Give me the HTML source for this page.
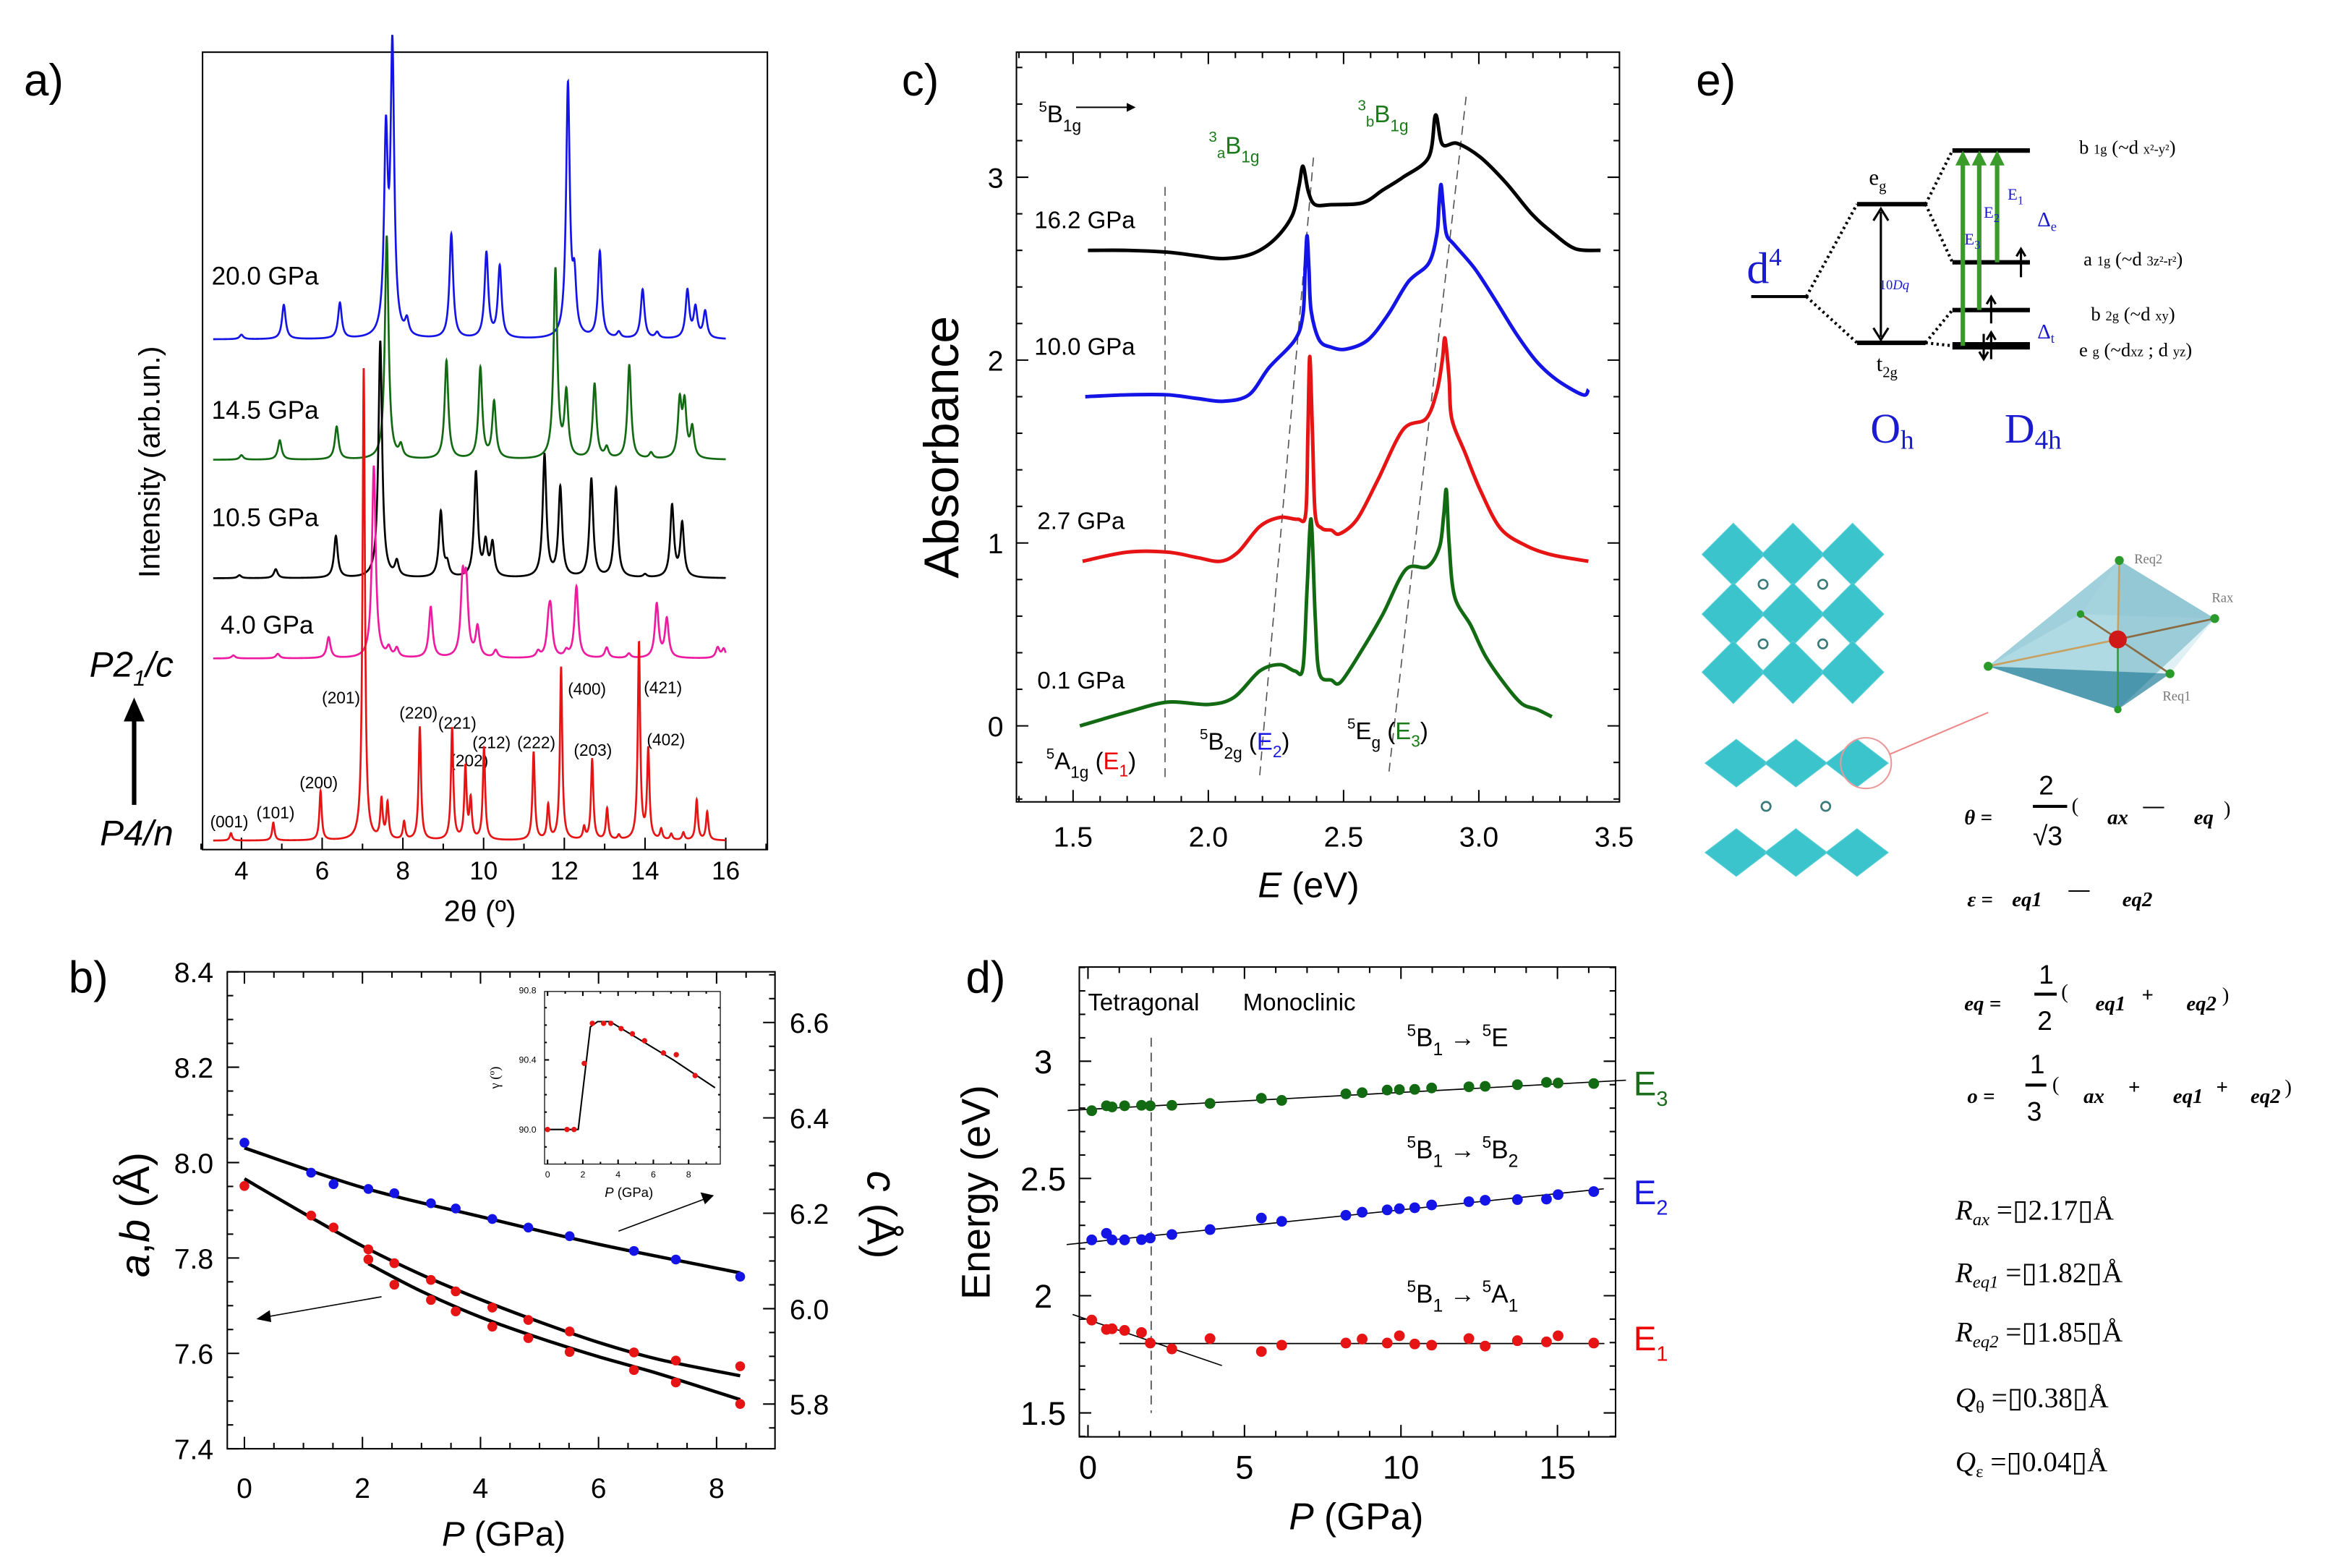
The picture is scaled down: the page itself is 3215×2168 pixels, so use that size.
<!DOCTYPE html>
<html><head><meta charset="utf-8"><style>
html,body{margin:0;padding:0;background:#fff}
svg{display:block}
text{font-family:"Liberation Sans",sans-serif}
.sf,.sf text,text.sf{font-family:"Liberation Serif",serif}
</style></head><body>
<svg id="fig" xmlns="http://www.w3.org/2000/svg" width="3215" height="2168" viewBox="0 0 1560 1052" preserveAspectRatio="none">
<rect width="1560" height="1052" fill="#fff"/>

<!-- Panel a -->
<g id="pa">
<text x="16" y="64" font-size="30">a)</text>
<rect x="135.9" y="35" width="379" height="535" fill="none" stroke="#000" stroke-width="1"/>
<text transform="translate(107,310) rotate(-90)" text-anchor="middle" font-size="20">Intensity (arb.un.)</text>
<text x="322" y="618" text-anchor="middle" font-size="20">2θ (º)</text>
<text x="60" y="454" font-size="24" font-style="italic">P2<tspan font-size="15" dy="6">1</tspan><tspan dy="-6">/c</tspan></text>
<line x1="90" y1="540" x2="90" y2="482" stroke="#000" stroke-width="3"/>
<polygon points="83,484 97,484 90,468" fill="#000"/>
<text x="67" y="567" font-size="24" font-style="italic">P4/n</text>
<text x="142" y="191" font-size="17">20.0 GPa</text>
<text x="142" y="281" font-size="17">14.5 GPa</text>
<text x="142" y="353" font-size="17">10.5 GPa</text>
<text x="148" y="425" font-size="17">4.0 GPa</text>
<g font-size="11">
<text x="141" y="555">(001)</text><text x="172" y="549">(101)</text><text x="201" y="529">(200)</text>
<text x="216" y="472">(201)</text><text x="268" y="482">(220)</text><text x="294" y="489">(221)</text>
<text x="302" y="514">(202)</text><text x="317" y="502">(212)</text><text x="347" y="502">(222)</text>
<text x="381" y="466">(400)</text><text x="385" y="507">(203)</text><text x="432" y="465">(421)</text>
<text x="434" y="500">(402)</text>
</g>
<g id="pa-ticks"></g><g id="pa-traces"></g>
</g>

<!-- Panel c -->
<g id="pc">
<text x="605" y="64" font-size="30">c)</text>
<rect x="682" y="35" width="404.6" height="503" fill="none" stroke="#000" stroke-width="1"/>
<text transform="translate(643,300) rotate(-90)" text-anchor="middle" font-size="33">Absorbance</text>
<text x="878" y="602" text-anchor="middle" font-size="24"><tspan font-style="italic">E</tspan> (eV)</text>
<g id="pc-ticks"></g><g id="pc-guides"></g><g id="pc-traces"></g>
<text x="697" y="82" font-size="16"><tspan font-size="10" dy="-7">5</tspan><tspan dy="7">B</tspan><tspan font-size="11" dy="6">1g</tspan></text>
<line x1="722" y1="72" x2="756" y2="72" stroke="#000" stroke-width="1"/>
<polygon points="756,69 762,72 756,75" fill="#000"/>
<text x="811" y="103" font-size="16" fill="#1a7a1a"><tspan font-size="10" dy="-8">3</tspan><tspan font-size="10" dy="11">a</tspan><tspan dy="-3">B</tspan><tspan font-size="11" dy="6">1g</tspan></text>
<text x="911" y="82" font-size="16" fill="#1a7a1a"><tspan font-size="10" dy="-8">3</tspan><tspan font-size="10" dy="11">b</tspan><tspan dy="-3">B</tspan><tspan font-size="11" dy="6">1g</tspan></text>
<text x="694" y="153" font-size="16">16.2 GPa</text>
<text x="694" y="238" font-size="16">10.0 GPa</text>
<text x="696" y="355" font-size="16">2.7 GPa</text>
<text x="696" y="462" font-size="16">0.1 GPa</text>
<text x="702" y="516" font-size="16"><tspan font-size="10" dy="-7">5</tspan><tspan dy="7">A</tspan><tspan font-size="11" dy="6">1g</tspan><tspan dy="-6"> (</tspan><tspan fill="#e00">E</tspan><tspan fill="#e00" font-size="11" dy="5">1</tspan><tspan dy="-5">)</tspan></text>
<text x="805" y="503" font-size="16"><tspan font-size="10" dy="-7">5</tspan><tspan dy="7">B</tspan><tspan font-size="11" dy="6">2g</tspan><tspan dy="-6"> (</tspan><tspan fill="#1a1ae0">E</tspan><tspan fill="#1a1ae0" font-size="11" dy="5">2</tspan><tspan dy="-5">)</tspan></text>
<text x="904" y="496" font-size="16"><tspan font-size="10" dy="-7">5</tspan><tspan dy="7">E</tspan><tspan font-size="11" dy="6">g</tspan><tspan dy="-6"> (</tspan><tspan fill="#1a7a1a">E</tspan><tspan fill="#1a7a1a" font-size="11" dy="5">3</tspan><tspan dy="-5">)</tspan></text>
</g>

<!-- Panel b -->
<g id="pb">
<text x="46" y="666" font-size="30">b)</text>
<rect x="152.5" y="652" width="367.5" height="320" fill="none" stroke="#000" stroke-width="1"/>
<text transform="translate(100,815) rotate(-90)" text-anchor="middle" font-size="28"><tspan font-style="italic">a</tspan>,<tspan font-style="italic">b</tspan> (Å)</text>
<text transform="translate(582,815) rotate(90)" text-anchor="middle" font-size="28"><tspan font-style="italic">c</tspan> (Å)</text>
<text x="338" y="1037" text-anchor="middle" font-size="23"><tspan font-style="italic">P</tspan> (GPa)</text>
<line x1="256" y1="870" x2="176" y2="884" stroke="#000" stroke-width="0.8"/>
<polygon points="172,885 181,879 182,887" fill="#000"/>
<line x1="415" y1="826" x2="474" y2="804" stroke="#000" stroke-width="0.8"/>
<polygon points="479,802 470,800 473,808" fill="#000"/>
<g id="pb-ticks"></g><g id="pb-marks"></g>
<rect x="365.4" y="665.2" width="117.9" height="115.8" fill="#fff" stroke="#000" stroke-width="0.6"/>
<text transform="translate(335,723) rotate(-90)" text-anchor="middle" font-size="9" class="sf">γ (º)</text>
<text x="422" y="803" text-anchor="middle" font-size="9"><tspan font-style="italic">P</tspan> (GPa)</text>
<g id="pi-ticks"></g><g id="pi-marks"></g>
</g>

<!-- Panel d -->
<g id="pd">
<text x="648" y="666" font-size="30">d)</text>
<rect x="724.2" y="648.8" width="359.8" height="315.2" fill="none" stroke="#000" stroke-width="1"/>
<text transform="translate(664,800) rotate(-90)" text-anchor="middle" font-size="27">Energy (eV)</text>
<text x="910" y="1026" text-anchor="middle" font-size="25"><tspan font-style="italic">P</tspan> (GPa)</text>
<text x="730" y="678" font-size="16">Tetragonal</text>
<text x="834" y="678" font-size="16">Monoclinic</text>
<text x="944" y="702" font-size="17"><tspan font-size="11" dy="-7">5</tspan><tspan dy="7">B</tspan><tspan font-size="12" dy="6">1</tspan><tspan dy="-6"> → </tspan><tspan font-size="11" dy="-7">5</tspan><tspan dy="7">E</tspan></text>
<text x="944" y="777" font-size="17"><tspan font-size="11" dy="-7">5</tspan><tspan dy="7">B</tspan><tspan font-size="12" dy="6">1</tspan><tspan dy="-6"> → </tspan><tspan font-size="11" dy="-7">5</tspan><tspan dy="7">B</tspan><tspan font-size="12" dy="6">2</tspan></text>
<text x="944" y="874" font-size="17"><tspan font-size="11" dy="-7">5</tspan><tspan dy="7">B</tspan><tspan font-size="12" dy="6">1</tspan><tspan dy="-6"> → </tspan><tspan font-size="11" dy="-7">5</tspan><tspan dy="7">A</tspan><tspan font-size="12" dy="6">1</tspan></text>
<text x="1096" y="735" font-size="23" fill="#1a6e1a">E<tspan font-size="14" dy="7">3</tspan></text>
<text x="1096" y="808" font-size="23" fill="#1a1ae0">E<tspan font-size="14" dy="7">2</tspan></text>
<text x="1096" y="906" font-size="23" fill="#e00">E<tspan font-size="14" dy="7">1</tspan></text>
<g id="pd-ticks"></g><g id="pd-marks"></g>
</g>

<!-- Panel e -->
<g id="pe">
<text x="1138" y="64" font-size="30">e)</text>
<text x="1172" y="190" font-size="30" fill="#1a1ad0" class="sf">d<tspan font-size="17" dy="-12">4</tspan></text>
<g stroke="#000" fill="none">
<line x1="1175" y1="199" x2="1212" y2="199" stroke-width="2"/>
<line x1="1246" y1="137" x2="1292" y2="137" stroke-width="3"/>
<line x1="1246" y1="230" x2="1292" y2="230" stroke-width="3"/>
<line x1="1310" y1="101" x2="1362" y2="101" stroke-width="3"/>
<line x1="1310" y1="176" x2="1362" y2="176" stroke-width="3"/>
<line x1="1310" y1="208" x2="1362" y2="208" stroke-width="3"/>
<line x1="1310" y1="232" x2="1362" y2="232" stroke-width="5"/>
<g stroke-dasharray="1.5,2.2" stroke-width="2">
<line x1="1212" y1="199" x2="1246" y2="137"/><line x1="1212" y1="199" x2="1246" y2="230"/>
<line x1="1292" y1="137" x2="1310" y2="101"/><line x1="1292" y1="137" x2="1310" y2="176"/>
<line x1="1292" y1="230" x2="1310" y2="208"/><line x1="1292" y1="230" x2="1310" y2="232"/>
</g>
<line x1="1262" y1="142" x2="1262" y2="226" stroke-width="1.5"/>
<polyline points="1257,148 1262,140 1267,148" stroke-width="1.5"/>
<polyline points="1257,220 1262,228 1267,220" stroke-width="1.5"/>
<line x1="1356" y1="186" x2="1356" y2="168" stroke-width="1.5"/><polyline points="1353,172 1356,167 1359,172" stroke-width="1.5"/>
<line x1="1336" y1="217" x2="1336" y2="200" stroke-width="1.5"/><polyline points="1333,204 1336,199 1339,204" stroke-width="1.5"/>
<line x1="1336" y1="241" x2="1336" y2="224" stroke-width="1.5"/><polyline points="1333,228 1336,223 1339,228" stroke-width="1.5"/>
<line x1="1331" y1="224" x2="1331" y2="240" stroke-width="1.5"/><polyline points="1328,236 1331,241 1334,236" stroke-width="1.5"/>
</g>
<g stroke="#3a9a2a" stroke-width="3" fill="#3a9a2a">
<line x1="1317" y1="232" x2="1317" y2="110"/><polygon points="1312,111 1322,111 1317,101" stroke="none"/>
<line x1="1328" y1="208" x2="1328" y2="110"/><polygon points="1323,111 1333,111 1328,101" stroke="none"/>
<line x1="1340" y1="176" x2="1340" y2="110"/><polygon points="1335,111 1345,111 1340,101" stroke="none"/>
</g>
<g class="sf" fill="#1a1ad0">
<text x="1318" y="164" font-size="11">E<tspan font-size="8" dy="3">3</tspan></text>
<text x="1331" y="146" font-size="11">E<tspan font-size="8" dy="3">2</tspan></text>
<text x="1347" y="134" font-size="11">E<tspan font-size="8" dy="3">1</tspan></text>
<text x="1367" y="152" font-size="14">Δ<tspan font-size="9" dy="3">e</tspan></text>
<text x="1367" y="227" font-size="14">Δ<tspan font-size="9" dy="3">t</tspan></text>
<text x="1261" y="194" font-size="9">10<tspan font-style="italic">Dq</tspan></text>
<text x="1255" y="297" font-size="28">O<tspan font-size="18" dy="4">h</tspan></text>
<text x="1345" y="297" font-size="28">D<tspan font-size="18" dy="4">4h</tspan></text>
</g>
<g class="sf" font-size="13">
<text x="1254" y="124" font-size="15">e<tspan font-size="10" dy="4">g</tspan></text>
<text x="1259" y="249" font-size="15">t<tspan font-size="10" dy="4">2g</tspan></text>
<text x="1395" y="103">b <tspan font-size="9">1g</tspan> (~d <tspan font-size="9">x²-y²</tspan>)</text>
<text x="1398" y="178">a <tspan font-size="9">1g</tspan> (~d <tspan font-size="9">3z²-r²</tspan>)</text>
<text x="1403" y="215">b <tspan font-size="9">2g</tspan> (~d <tspan font-size="9">xy</tspan>)</text>
<text x="1395" y="239">e <tspan font-size="9">g</tspan> (~d<tspan font-size="9">xz</tspan> ; d <tspan font-size="9">yz</tspan>)</text>
</g>
<g id="crystal"></g>
<g>
<polygon points="1422,376 1486,415 1421,476" fill="#4a9cb0" opacity="0.75"/>
<polygon points="1422,376 1334,447 1421,476" fill="#7fc0d0" opacity="0.75"/>
<polygon points="1334,447 1456,452 1421,476" fill="#3f8ea6" opacity="0.8"/>
<polygon points="1422,376 1396,412 1486,415" fill="#a8d6e0" opacity="0.6"/>
<polygon points="1334,447 1396,412 1486,415 1456,452" fill="#bfe4ec" opacity="0.5"/>
<g stroke="#c8a060" stroke-width="1.3"><line x1="1334" y1="447" x2="1421" y2="429"/><line x1="1422" y1="376" x2="1421" y2="429"/></g>
<g stroke="#8a6a40" stroke-width="1.3"><line x1="1396" y1="412" x2="1456" y2="452"/><line x1="1421" y1="429" x2="1486" y2="415"/></g>
<line x1="1421" y1="429" x2="1421" y2="476" stroke="#3a9a3a" stroke-width="1.3"/>
<circle cx="1421" cy="429" r="6" fill="#d01818"/>
<g fill="#2a9a2a"><circle cx="1422" cy="376" r="3"/><circle cx="1486" cy="415" r="3"/><circle cx="1334" cy="447" r="3"/><circle cx="1456" cy="452" r="3"/><circle cx="1396" cy="412" r="2.5"/><circle cx="1421" cy="476" r="2.5"/></g>
<g fill="#777" font-size="9" class="sf"><text x="1432" y="378">Req2</text><text x="1484" y="404">Rax</text><text x="1451" y="470">Req1</text></g>
</g>
<circle cx="1252" cy="512" r="17" fill="none" stroke="#e89898" stroke-width="1"/>
<line x1="1268" y1="506" x2="1334" y2="478" stroke="#e88" stroke-width="1"/>
<g font-weight="bold" font-style="italic" font-size="14" class="sf">
<text x="1318" y="553">θ =</text><text x="1368" y="533" font-style="normal" font-weight="normal" style="font-family:'Liberation Sans',sans-serif" font-size="18">2</text>
<line x1="1364" y1="541" x2="1387" y2="541" stroke="#000" stroke-width="2"/>
<text x="1364" y="567" font-style="normal" font-weight="normal" style="font-family:'Liberation Sans',sans-serif" font-size="18">√3</text>
<text x="1390" y="545" font-style="normal" font-weight="normal">(</text><text x="1414" y="553">ax</text><text x="1438" y="545" font-style="normal">—</text><text x="1472" y="553">eq</text><text x="1492" y="547" font-style="normal" font-weight="normal">)</text>
<text x="1320" y="608">ε =</text><text x="1350" y="608">eq1</text><text x="1388" y="601" font-style="normal">—</text><text x="1424" y="608">eq2</text>
<text x="1318" y="678">eq =</text><text x="1368" y="660" font-style="normal" font-weight="normal" style="font-family:'Liberation Sans',sans-serif" font-size="18">1</text>
<line x1="1365" y1="667" x2="1380" y2="667" stroke="#000" stroke-width="2"/>
<text x="1367" y="691" font-style="normal" font-weight="normal" style="font-family:'Liberation Sans',sans-serif" font-size="18">2</text>
<text x="1383" y="670" font-style="normal" font-weight="normal">(</text><text x="1406" y="678">eq1</text><text x="1437" y="672" font-style="normal">+</text><text x="1467" y="678">eq2</text><text x="1491" y="672" font-style="normal" font-weight="normal">)</text>
<text x="1320" y="740">o =</text><text x="1362" y="720" font-style="normal" font-weight="normal" style="font-family:'Liberation Sans',sans-serif" font-size="18">1</text>
<line x1="1359" y1="728" x2="1373" y2="728" stroke="#000" stroke-width="2"/>
<text x="1360" y="752" font-style="normal" font-weight="normal" style="font-family:'Liberation Sans',sans-serif" font-size="18">3</text>
<text x="1377" y="732" font-style="normal" font-weight="normal">(</text><text x="1398" y="740">ax</text><text x="1428" y="734" font-style="normal">+</text><text x="1458" y="740">eq1</text><text x="1487" y="734" font-style="normal">+</text><text x="1510" y="740">eq2</text><text x="1533" y="734" font-style="normal" font-weight="normal">)</text>
</g>
<g class="sf" font-size="19">
<text x="1312" y="818"><tspan font-style="italic">R</tspan><tspan font-style="italic" font-size="12" dy="4">ax</tspan><tspan dy="-4"> =▯2.17▯Å</tspan></text>
<text x="1312" y="860"><tspan font-style="italic">R</tspan><tspan font-style="italic" font-size="12" dy="4">eq1</tspan><tspan dy="-4"> =▯1.82▯Å</tspan></text>
<text x="1312" y="900"><tspan font-style="italic">R</tspan><tspan font-style="italic" font-size="12" dy="4">eq2</tspan><tspan dy="-4"> =▯1.85▯Å</tspan></text>
<text x="1312" y="944"><tspan font-style="italic">Q</tspan><tspan font-size="12" dy="4">θ</tspan><tspan dy="-4"> =▯0.38▯Å</tspan></text>
<text x="1312" y="987"><tspan font-style="italic">Q</tspan><tspan font-size="12" dy="4">ε</tspan><tspan dy="-4"> =▯0.04▯Å</tspan></text>
</g>
</g>

</svg>
<script>
// ---------- Panel a: XRD peak data (2θ positions, heights in px above baseline) ----------
const xrdBluePos=[4.0,5.05,6.44,7.58,7.74,8.1,9.2,10.07,10.4,12.09,12.25,12.88,13.35,13.94,14.3,15.05,15.25,15.49];
const xrdBlueH=[3,23,24,130,190,10,70,57,48,169,35,58,4,33,4,32,20,18];
const xrdGreenPos=[4.0,4.95,6.36,7.6,7.95,9.08,9.92,10.26,11.78,12.05,12.75,13.05,13.61,14.15,14.86,14.98,15.17];
const xrdGreenH=[3,13,22,150,8,66,61,38,127,43,50,7,63,4,37,35,20];
const xrdBlackPos=[3.95,4.85,6.34,7.44,7.85,8.94,9.1,9.81,10.05,10.22,11.51,11.9,12.67,13.28,14.0,14.67,14.92];
const xrdBlackH=[2,6,28,159,10,44,8,70,22,22,82,60,66,60,2,48,36];
const xrdPinkPos=[3.8,4.9,6.16,7.28,7.65,7.85,8.69,9.48,9.57,9.85,10.3,11.35,11.61,11.66,12.05,12.3,13.05,13.6,14.29,14.54,15.8,15.95];
const xrdPinkH=[2,3,14,129,6,6,34,48,46,20,5,4,18,27,4,48,7,3,36,26,7,6];
const xrdRedPos=[3.74,4.79,5.96,7.03,7.47,7.62,8.03,8.42,9.22,9.55,9.68,10.01,11.24,11.6,11.92,12.49,12.69,13.06,13.35,13.85,14.08,14.4,14.65,14.95,15.28,15.54];
const xrdRedH=[5,12,33,317,26,24,12,76,75,48,26,62,59,23,116,8,54,21,3,132,60,7,4,5,27,19];
const xrdBaselines=[227.7,308.5,388,441.8,564];
const xrdTicks=[4,6,8,10,12,14,16];

// ---------- Panel c: absorption spectra (E in eV, absorbance) ----------
const specGreenE=[1.525,1.70,1.85,2.0,2.095,2.19,2.265,2.32,2.35,2.365,2.38,2.395,2.41,2.455,2.49,2.57,2.645,2.73,2.81,2.855,2.87,2.88,2.89,2.91,2.97,3.025,3.10,3.16,3.215,3.27];
const specGreenA=[0,0.075,0.13,0.117,0.156,0.30,0.335,0.30,0.32,0.75,1.13,0.6,0.29,0.25,0.24,0.42,0.61,0.855,0.87,0.98,1.15,1.29,1.0,0.71,0.55,0.38,0.22,0.12,0.09,0.05];
const specRedE=[1.535,1.70,1.85,1.96,2.045,2.11,2.19,2.265,2.33,2.36,2.368,2.375,2.385,2.395,2.42,2.455,2.485,2.55,2.625,2.72,2.805,2.845,2.865,2.875,2.89,2.9,2.95,3.005,3.08,3.175,3.27,3.405];
const specRedA=[0.90,0.95,0.95,0.92,0.90,0.95,1.09,1.14,1.13,1.16,1.6,2.02,1.6,1.16,1.08,1.07,1.05,1.13,1.34,1.62,1.68,1.83,2.0,2.12,1.9,1.68,1.49,1.29,1.08,0.985,0.935,0.90];
const specBlueE=[1.545,1.70,1.85,1.96,2.055,2.15,2.225,2.32,2.35,2.358,2.365,2.372,2.38,2.41,2.455,2.51,2.59,2.665,2.74,2.815,2.845,2.853,2.86,2.868,2.88,2.91,2.985,3.06,3.14,3.215,3.29,3.385,3.405];
const specBlueA=[1.80,1.81,1.81,1.79,1.775,1.81,1.96,2.11,2.25,2.5,2.68,2.5,2.27,2.11,2.07,2.06,2.11,2.25,2.43,2.53,2.69,2.85,2.96,2.85,2.69,2.63,2.50,2.33,2.14,1.99,1.89,1.81,1.84];
const specBlackE=[1.555,1.70,1.85,1.96,2.055,2.16,2.245,2.31,2.335,2.35,2.37,2.395,2.455,2.57,2.645,2.72,2.815,2.84,2.865,2.92,3.005,3.10,3.195,3.27,3.355,3.45];
const specBlackA=[2.60,2.60,2.59,2.57,2.555,2.58,2.66,2.79,2.95,3.06,2.92,2.85,2.85,2.86,2.93,3.00,3.11,3.34,3.18,3.185,3.11,2.97,2.80,2.70,2.61,2.60];
const guideE1=[1.84,1.84], guideA1=[-0.28,2.95];
const guideE2=[2.19,2.39], guideA2=[-0.27,3.13];
const guideE3=[2.668,2.953], guideA3=[-0.25,3.44];
const cTicksX=[1.5,2.0,2.5,3.0,3.5], cTicksXLabels=["1.5","2.0","2.5","3.0","3.5"];
const cTicksY=[0,1,2,3];

// ---------- Panel b: lattice parameters ----------
const bluePb=[0,1.13,1.51,2.10,2.54,3.16,3.58,4.20,4.81,5.51,6.60,7.31,8.40];
const blueC=[6.348,6.285,6.261,6.251,6.242,6.221,6.210,6.188,6.170,6.152,6.121,6.103,6.067];
const blueFitP=[0,2,4,6,8.4], blueFitC=[6.337,6.254,6.193,6.135,6.075];
const redAP=[0,1.13,1.51,2.10,2.54,3.16,3.58,4.20,4.81,5.51,6.60,7.31,8.40];
const redA=[7.951,7.889,7.864,7.818,7.789,7.754,7.730,7.696,7.670,7.646,7.602,7.585,7.573];
const redBP=[2.10,2.54,3.16,3.58,4.20,4.81,5.51,6.60,7.31,8.40];
const redB=[7.797,7.744,7.712,7.688,7.656,7.632,7.603,7.565,7.539,7.494];
const fitAP=[0,1,2,3,4,5,6,7,8.4], fitA=[7.966,7.894,7.825,7.765,7.713,7.666,7.623,7.588,7.553];
const fitBP=[2.1,3,4,5,6,7,8.4], fitB=[7.788,7.730,7.676,7.632,7.593,7.558,7.503];
const bTicksX=[0,2,4,6,8];
const bTicksY=[7.4,7.6,7.8,8.0,8.2,8.4], bTicksYLabels=["7.4","7.6","7.8","8.0","8.2","8.4"];
const bTicksY2=[5.8,6.0,6.2,6.4,6.6], bTicksY2Labels=["5.8","6.0","6.2","6.4","6.6"];
const insetP=[0,1.1,1.5,2.08,2.54,3.18,3.59,4.17,4.81,5.5,6.57,7.3,8.37];
const insetG=[90.0,90.0,90.0,90.38,90.61,90.61,90.61,90.58,90.55,90.51,90.44,90.43,90.31];
const insetFitP=[-0.17,1.74,2.43,2.84,3.54,4.52,7.13,9.5], insetFitG=[90.0,90.0,90.59,90.62,90.62,90.56,90.40,90.24];
const iTicksX=[0,2,4,6,8], iTicksY=[90.0,90.4,90.8], iTicksYLabels=["90.0","90.4","90.8"];

// ---------- Panel d: transition energies ----------
const dP=[0.12,0.59,0.77,1.17,1.71,1.99,2.68,3.90,5.54,6.19,8.24,8.76,9.56,9.95,10.44,10.98,12.17,12.69,13.72,14.65,15.02,16.16];
const dE3=[2.789,2.81,2.805,2.81,2.812,2.81,2.812,2.82,2.842,2.833,2.861,2.866,2.877,2.879,2.88,2.886,2.891,2.893,2.90,2.91,2.907,2.905];
const dE2=[2.238,2.266,2.238,2.238,2.239,2.246,2.261,2.282,2.331,2.317,2.343,2.356,2.366,2.371,2.375,2.387,2.401,2.407,2.41,2.412,2.431,2.444];
const dE1=[1.896,1.856,1.859,1.852,1.843,1.798,1.773,1.817,1.762,1.789,1.798,1.815,1.798,1.829,1.794,1.789,1.817,1.785,1.808,1.803,1.829,1.798];
const fitE3P=[-0.65,17.19], fitE3=[2.79,2.919];
const fitE2P=[-0.68,16.48], fitE2=[2.218,2.456];
const fitE1P=[1.0,16.5], fitE1=[1.796,1.796];
const fitE1sP=[-0.49,4.28], fitE1s=[1.92,1.702];
const dTicksX=[0,5,10,15], dTicksY=[1.5,2,2.5,3], dTicksYLabels=["1.5","2","2.5","3"];
const transitionP=2.02;

const NS="http://www.w3.org/2000/svg";
function mk(tag,attrs,parent){const e=document.createElementNS(NS,tag);for(const k in attrs)e.setAttribute(k,attrs[k]);parent.appendChild(e);return e;}
function txt(s,attrs,parent){const e=mk("text",attrs,parent);e.textContent=s;return e;}
const G=id=>document.getElementById(id);

const xa=v=>162+(v-4)*27.08;
const xc=E=>720+(E-1.5)*181.5, yc=A=>487-A*122.7;
const xb=P=>164+P*39.6, yb=a=>652+(8.4-a)*320, yb2=c=>686+(6.6-c)*320;
const xi=P=>367.4+P*11.83, yi=g=>757.8-(g-90)*116.75;
const xd=P=>730+P*21, yd=E=>712-(E-3)*157.3;

function tick(parent,x1,y1,x2,y2,name){const l=mk("line",{x1,y1,x2,y2,stroke:"#000","stroke-width":1},parent);

}
function label(parent,s,x,y,size,anchor,name){const t=txt(s,{x,y,"font-size":size,"text-anchor":anchor},parent);

}
function poly(parent,xs,ys,fx,fy,color,w,name,dash){const pts=xs.map((v,i)=>fx(v).toFixed(2)+","+fy(ys[i]).toFixed(2)).join(" ");
const p=mk("polyline",{points:pts,fill:"none",stroke:color,"stroke-width":w,"stroke-linejoin":"round"},parent);
if(dash)p.setAttribute("stroke-dasharray",dash);

}
function smooth(parent,xs,ys,fx,fy,color,w,name){const P=xs.map((v,i)=>[fx(v),fy(ys[i])]);
let d="M"+P[0][0].toFixed(2)+","+P[0][1].toFixed(2);
for(let i=0;i<P.length-1;i++){const p0=P[Math.max(0,i-1)],p1=P[i],p2=P[i+1],p3=P[Math.min(P.length-1,i+2)];
const t=0.16;const c1=[p1[0]+(p2[0]-p0[0])*t,p1[1]+(p2[1]-p0[1])*t],c2=[p2[0]-(p3[0]-p1[0])*t,p2[1]-(p3[1]-p1[1])*t];
d+="C"+c1[0].toFixed(2)+","+c1[1].toFixed(2)+" "+c2[0].toFixed(2)+","+c2[1].toFixed(2)+" "+p2[0].toFixed(2)+","+p2[1].toFixed(2);}
const p=mk("path",{d,fill:"none",stroke:color,"stroke-width":w,"stroke-linejoin":"round"},parent);

}
function dots(parent,xs,ys,fx,fy,color,r,name){xs.forEach((v,i)=>{const c=mk("circle",{cx:fx(v),cy:fy(ys[i]),r,fill:color},parent);

});}

// ----- Panel a -----
{const tk=G("pa-ticks");
for(let v=3;v<=17;v+=1){const major=v%2===0;tick(tk,xa(v),570,xa(v),570-(major?8:4),"x-tick");}
xrdTicks.forEach(v=>label(tk,String(v),xa(v),590,17,"middle","x-tick-label"));
const tr=G("pa-traces");
const series=[[xrdBluePos,xrdBlueH,"#1414e6",0.055],[xrdGreenPos,xrdGreenH,"#126a12",0.055],[xrdBlackPos,xrdBlackH,"#000",0.055],[xrdPinkPos,xrdPinkH,"#ee1aa0",0.055],[xrdRedPos,xrdRedH,"#e61414",0.035]];
const names=["trace-20gpa","trace-14gpa","trace-10gpa","trace-4gpa","trace-ambient"];
series.forEach((s,k)=>{let d="";const base=xrdBaselines[k];
for(let x=3.3;x<=16.0001;x+=0.004){let y=base;for(let j=0;j<s[0].length;j++){const u=(x-s[0][j])/s[3];y-=s[1][j]/(1+u*u);}
d+=(d?"L":"M")+xa(x).toFixed(2)+","+y.toFixed(2);}
const p=mk("path",{d,fill:"none",stroke:s[2],"stroke-width":1.3},tr);

});}

// ----- Panel c -----
{const tk=G("pc-ticks");
for(let i=0;i<=21;i++){const E=1.3+i*0.1;if(E>3.52)break;const major=Math.abs(E*2-Math.round(E*2))<1e-6;const L=major?8:4;
tick(tk,xc(E),538,xc(E),538-L,"x-tick");tick(tk,xc(E),35,xc(E),35+L,"x-tick-top");}
for(let i=-2;i<=18;i++){const A=i*0.2;const major=i%5===0;const L=major?8:4;
tick(tk,682,yc(A),682+L,yc(A),"y-tick");tick(tk,1086.6,yc(A),1086.6-L,yc(A),"y-tick-right");}
cTicksX.forEach((v,i)=>label(tk,cTicksXLabels[i],xc(v),568,19,"middle","x-tick-label"));
cTicksY.forEach(v=>label(tk,String(v),668,yc(v)+7,19,"middle","y-tick-label"));
const gd=G("pc-guides");
poly(gd,guideE1,guideA1,xc,yc,"#555",0.8,"guide-e1","6,4");
poly(gd,guideE2,guideA2,xc,yc,"#555",0.8,"guide-e2","6,4");
poly(gd,guideE3,guideA3,xc,yc,"#555",0.8,"guide-e3","6,4");
const tr=G("pc-traces");
smooth(tr,specBlackE,specBlackA,xc,yc,"#000",2.4,"spectrum-16gpa");
smooth(tr,specBlueE,specBlueA,xc,yc,"#1414e6",2.4,"spectrum-10gpa");
smooth(tr,specRedE,specRedA,xc,yc,"#e61414",2.4,"spectrum-2gpa");
smooth(tr,specGreenE,specGreenA,xc,yc,"#126a12",2.4,"spectrum-01gpa");}

// ----- Panel b -----
{const tk=G("pb-ticks");
for(let i=0;i<=18;i++){const P=i*0.5;if(xb(P)>520)break;const major=i%4===0;const L=major?8:4;
tick(tk,xb(P),972,xb(P),972-L,"x-tick");tick(tk,xb(P),652,xb(P),652+L,"x-tick-top");}
for(let i=0;i<=20;i++){const a=7.4+i*0.05;const major=i%4===0;tick(tk,152.5,yb(a),152.5+(major?8:4),yb(a),"y-tick");}
for(let i=0;i<=20;i++){const c=5.7+i*0.05;const y=yb2(c);if(y<652||y>972)continue;const major=Math.abs(c*5-Math.round(c*5))<1e-6;tick(tk,520,y,520-(major?8:4),y,"y2-tick");}
bTicksX.forEach(v=>label(tk,String(v),xb(v),1005,19,"middle","x-tick-label"));
bTicksY.forEach((v,i)=>label(tk,bTicksYLabels[i],130,yb(v)+7,19,"middle","y-tick-label"));
bTicksY2.forEach((v,i)=>label(tk,bTicksY2Labels[i],543,yb2(v)+7,19,"middle","y2-tick-label"));
const mkr=G("pb-marks");
smooth(mkr,blueFitP,blueFitC,xb,yb2,"#000",2.2,"fit-c");
smooth(mkr,fitAP,fitA,xb,yb,"#000",2.2,"fit-a");
smooth(mkr,fitBP,fitB,xb,yb,"#000",2.2,"fit-b");
dots(mkr,bluePb,blueC,xb,yb2,"#1414e6",3.3,"point-c");
dots(mkr,redAP,redA,xb,yb,"#e61414",3.3,"point-a");
dots(mkr,redBP,redB,xb,yb,"#e61414",3.3,"point-b");
const it=G("pi-ticks");
for(let P=0;P<=9.5;P+=1){const L=P%2===0?3:1.5;tick(it,xi(P),781,xi(P),781-L,"inset-x-tick");tick(it,xi(P),665.2,xi(P),665.2+L,"inset-x-tick-top");}
for(let i=-1;i<=9;i++){const g=90+i*0.1;const y=yi(g);if(y<665||y>781)continue;const L=i%4===0?3:1.5;tick(it,365.4,y,365.4+L,y,"inset-y-tick");tick(it,483.3,y,483.3-L,y,"inset-y-tick-right");}
iTicksX.forEach(v=>label(it,String(v),xi(v),790,6,"middle","inset-x-tick-label"));
iTicksY.forEach((v,i)=>label(it,iTicksYLabels[i],354,yi(v)+2,6,"middle","inset-y-tick-label"));
const im=G("pi-marks");
poly(im,insetFitP,insetFitG,xi,yi,"#000",1,"inset-fit");
dots(im,insetP,insetG,xi,yi,"#e61414",1.8,"inset-point");}

// ----- Panel d -----
{const tk=G("pd-ticks");
for(let P=0;P<=16;P+=1){const L=P%5===0?8:4;tick(tk,xd(P),964,xd(P),964-L,"x-tick");tick(tk,xd(P),648.8,xd(P),648.8+L,"x-tick-top");}
for(let i=0;i<=20;i++){const E=1.4+i*0.1;const y=yd(E);if(y<648||y>964)continue;const major=Math.abs(E*2-Math.round(E*2))<1e-6;const L=major?8:4;
tick(tk,724.2,y,724.2+L,y,"y-tick");tick(tk,1084,y,1084-L,y,"y-tick-right");}
dTicksX.forEach(v=>label(tk,String(v),xd(v),992,22,"middle","x-tick-label"));
dTicksY.forEach((v,i)=>label(tk,dTicksYLabels[i],700,yd(v)+8,22,"middle","y-tick-label"));
const m=G("pd-marks");
poly(m,[transitionP,transitionP],[3.10,1.50],xd,yd,"#444",0.8,"transition-line","6,4");
poly(m,fitE3P,fitE3,xd,yd,"#000",0.8,"fit-e3");
poly(m,fitE2P,fitE2,xd,yd,"#000",0.8,"fit-e2");
poly(m,fitE1P,fitE1,xd,yd,"#000",0.8,"fit-e1");
poly(m,fitE1sP,fitE1s,xd,yd,"#000",0.8,"fit-e1-tetragonal");
dots(m,dP,dE3,xd,yd,"#126a12",3.6,"point-e3");
dots(m,dP,dE2,xd,yd,"#1414e6",3.6,"point-e2");
dots(m,dP,dE1,xd,yd,"#e61414",3.6,"point-e1");}

// ----- Crystal drawing -----
{const c=G("crystal");
function dia(cx,cy,hw,hh){const p=mk("polygon",{points:`${cx},${cy-hh} ${cx+hw},${cy} ${cx},${cy+hh} ${cx-hw},${cy}`,fill:"#3cc4cc",stroke:"#5ad0d6","stroke-width":0.5},c);

}
function ring(cx,cy){const r=mk("circle",{cx,cy,r:3,fill:"none",stroke:"#3a7a7a","stroke-width":1.3},c);

}
[1163,1203,1243].forEach(x=>[372,412,451].forEach(y=>dia(x,y,21,21)));
[[1183,392],[1223,392],[1183,432],[1223,432]].forEach(p=>ring(p[0],p[1]));
[1165,1205,1246].forEach(x=>{dia(x,512,21,16);dia(x,572,21,16);});
[[1185,541],[1225,541]].forEach(p=>ring(p[0],p[1]));}
</script>
</body></html>
